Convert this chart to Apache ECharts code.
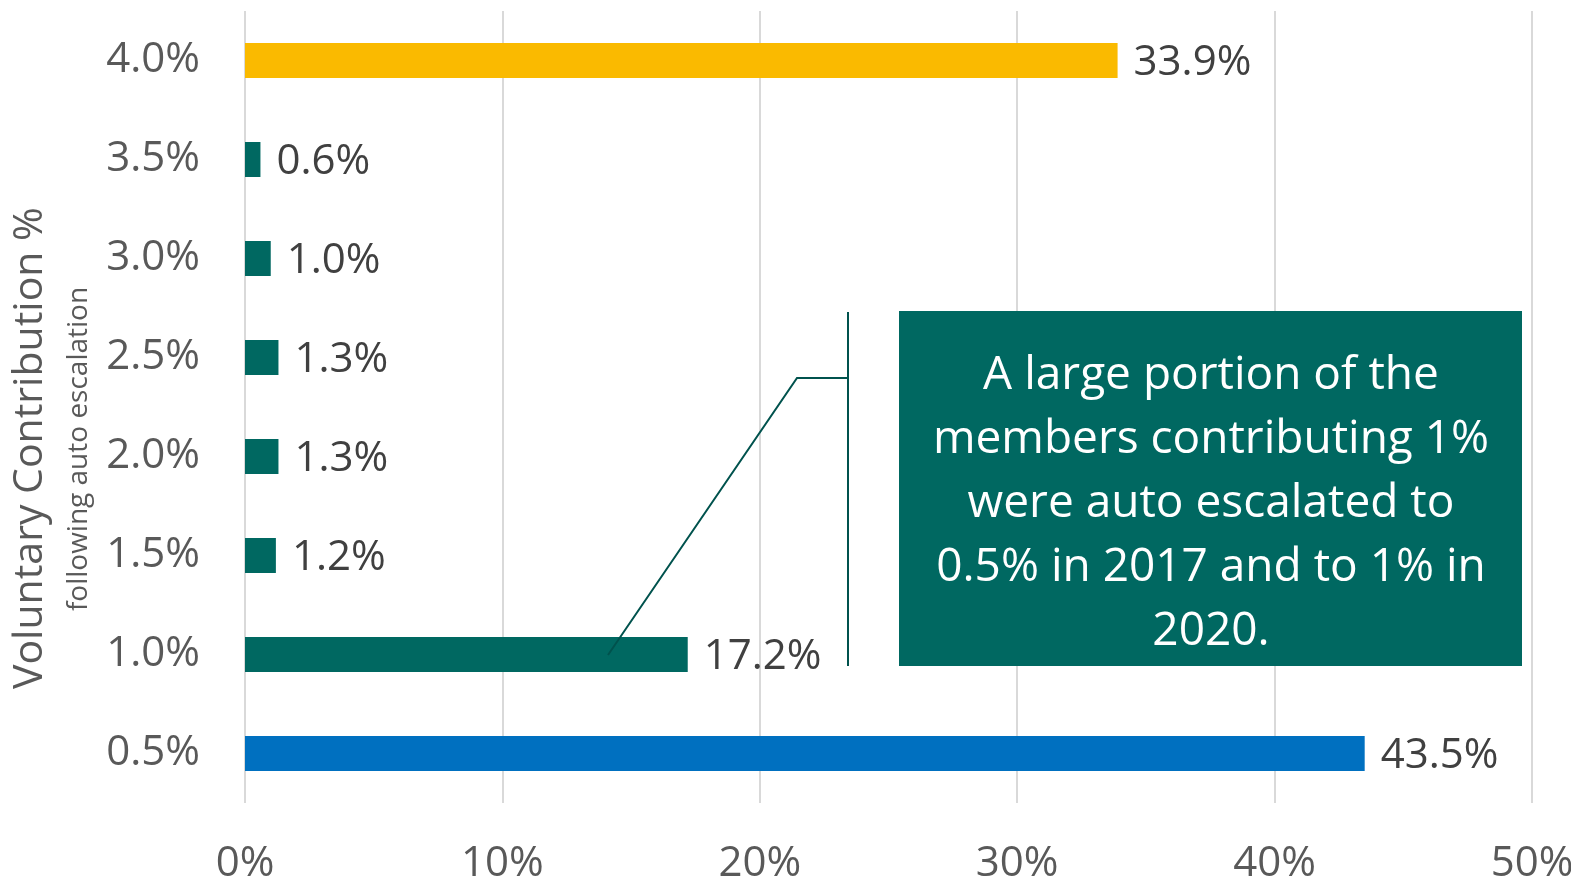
<!DOCTYPE html>
<html>
<head>
<meta charset="utf-8">
<script src="https://cdn.jsdelivr.net/npm/echarts@6/dist/echarts.min.js"></script>
<style>
html,body{margin:0;padding:0;background:#fff;}
#c{width:1571px;height:882px;}
</style>
</head>
<body>
<div id="c"></div>
<script>
const categories = ['0.5%', '1.0%', '1.5%', '2.0%', '2.5%', '3.0%', '3.5%', '4.0%'];
const values = [43.5, 17.2, 1.2, 1.3, 1.3, 1.0, 0.6, 33.9];
const xTicks = [0, 10, 20, 30, 40, 50];
const barColors = ['#0070C0', '#006861', '#006861', '#006861', '#006861', '#006861', '#006861', '#FABA00'];
const yTitle = 'Voluntary Contribution %';
const ySubtitle = 'following auto escalation';
const note = 'A large portion of the\nmembers contributing 1%\nwere auto escalated to\n0.5% in 2017 and to 1% in\n2020.';

const FONT = "'Open Sans', 'Noto Sans', sans-serif";
const chart = echarts.init(document.getElementById('c'));
chart.setOption({
  backgroundColor: '#fff',
  animation: false,
  grid: {left: 245, right: 39, top: 11, bottom: 79, containLabel: false, outerBoundsMode: 'none'},
  xAxis: {
    type: 'value', min: xTicks[0], max: xTicks[xTicks.length - 1], interval: 10,
    axisLine: {show: false}, axisTick: {show: false},
    splitLine: {show: true, lineStyle: {color: '#D9D9D9', width: 2}},
    axisLabel: {formatter: v => v + '%', color: '#595959', fontSize: 42, fontFamily: FONT, margin: 40}
  },
  yAxis: {
    type: 'category', data: categories,
    axisLine: {show: false}, axisTick: {show: false},
    axisLabel: {color: '#595959', fontSize: 42, fontFamily: FONT, margin: 45, padding: [6, 0, 0, 0]}
  },
  series: [{
    type: 'bar', data: values, barWidth: 35,
    itemStyle: {color: p => barColors[p.dataIndex]},
    label: {show: true, position: 'right', distance: 16, offset: [0, 3], formatter: p => p.value.toFixed(1) + '%',
      color: '#404040', fontSize: 42, fontFamily: FONT}
  }],
  graphic: [
    {type: 'text', x: 30, y: 448, rotation: Math.PI / 2, z: 100,
      style: {text: yTitle, fill: '#595959', font: '41px ' + FONT, textAlign: 'center', textVerticalAlign: 'middle'}},
    {type: 'text', x: 79, y: 449, rotation: Math.PI / 2, z: 100,
      style: {text: ySubtitle, fill: '#595959', font: '28px ' + FONT, textAlign: 'center', textVerticalAlign: 'middle'}},
    {type: 'polyline', z: 100, shape: {points: [[608, 655], [797, 378], [848, 378]]},
      style: {stroke: '#00524D', lineWidth: 2, fill: null}},
    {type: 'line', z: 100, shape: {x1: 848, y1: 312, x2: 848, y2: 666},
      style: {stroke: '#00524D', lineWidth: 2}},
    {type: 'rect', z: 100, shape: {x: 899, y: 311, width: 623, height: 355},
      style: {fill: '#006861'}},
    {type: 'text', z: 101, x: 1211, y: 504,
      style: {text: note, fill: '#fff', font: '46px ' + FONT, textAlign: 'center', textVerticalAlign: 'middle', lineHeight: 64}}
  ]
});
</script>
</body>
</html>
